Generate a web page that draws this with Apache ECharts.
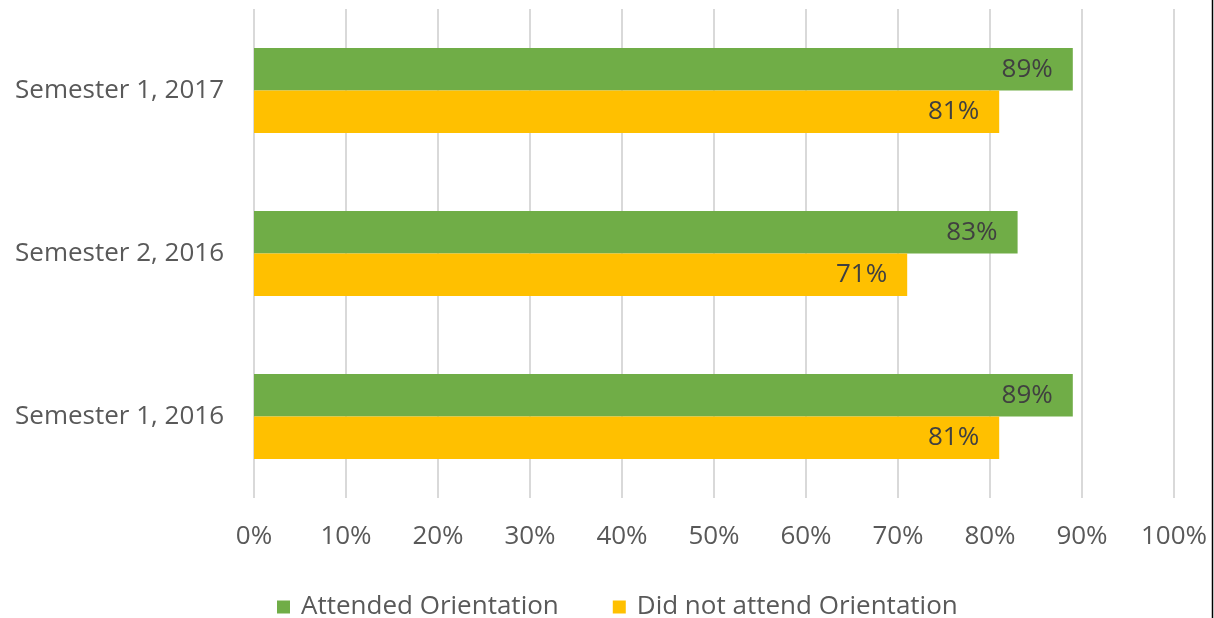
<!DOCTYPE html>
<html><head><meta charset="utf-8">
<script src="https://cdn.jsdelivr.net/npm/echarts@6/dist/echarts.min.js"></script>
<style>html,body{margin:0;padding:0;background:#fff}#c{width:1214px;height:618px}</style>
</head><body><div id="c"></div>
<script>
const categories = ['Semester 1, 2017', 'Semester 2, 2016', 'Semester 1, 2016'];
const attended = [89, 83, 89];
const notAttended = [81, 71, 81];
const seriesNames = ['Attended Orientation', 'Did not attend Orientation'];
const xTicks = [0, 10, 20, 30, 40, 50, 60, 70, 80, 90, 100];

const font = '"Open Sans", sans-serif';
const FS = 26;
const chart = echarts.init(document.getElementById('c'), null, {renderer: 'canvas'});
chart.setOption({
  animation: false,
  textStyle: {fontFamily: font},
  grid: {left: 254, right: 40, top: 9, bottom: 120, containLabel: false},
  legend: {
    top: 589, left: 272,
    itemWidth: 13, itemHeight: 13, itemGap: 54,
    icon: 'rect',
    textStyle: {fontSize: FS, color: '#595959', fontFamily: font, padding: [0, 0, 0, 6]},
    data: seriesNames
  },
  xAxis: {
    type: 'value', min: xTicks[0], max: xTicks[xTicks.length - 1], interval: 10,
    axisLine: {show: false}, axisTick: {show: false},
    splitLine: {show: true, lineStyle: {color: '#d9d9d9', width: 2}},
    axisLabel: {formatter: v => v + '%', fontSize: FS, color: '#595959', margin: 26, fontFamily: font}
  },
  yAxis: {
    type: 'category', data: categories, inverse: true,
    axisLine: {show: false}, axisTick: {show: false},
    axisLabel: {fontSize: FS, color: '#595959', margin: 30, fontFamily: font}
  },
  series: [
    {name: seriesNames[0], type: 'bar', data: attended, barGap: '0%', barCategoryGap: '48%',
     itemStyle: {color: '#70ad47'},
     label: {show: true, position: 'insideRight', distance: 20, formatter: '{c}%', fontSize: FS, color: '#404040', fontFamily: font}},
    {name: seriesNames[1], type: 'bar', data: notAttended, barGap: '0%', barCategoryGap: '48%',
     itemStyle: {color: '#ffc000'},
     label: {show: true, position: 'insideRight', distance: 20, formatter: '{c}%', fontSize: FS, color: '#404040', fontFamily: font}}
  ],
  graphic: [{type: 'line', shape: {x1: 1212.5, y1: 0, x2: 1212.5, y2: 618}, style: {stroke: '#000', lineWidth: 1.5}}]
});
</script></body></html>
